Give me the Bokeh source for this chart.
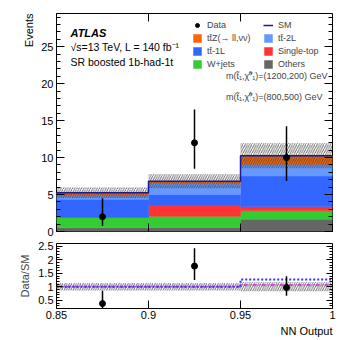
import numpy as np
from bokeh.plotting import figure
from bokeh.layouts import column
from bokeh.models import (ColumnDataSource, Range1d, FixedTicker, Legend, LegendItem,
                          LinearAxis, CustomJSTickFormatter, Title)
from bokeh.core.properties import value
from bokeh.embed import file_html
from bokeh.resources import INLINE

# ---------------- data ----------------
bin_edges = [0.85, 0.90, 0.95, 1.00]
bin_centers = [0.875, 0.925, 0.975]
others = [0.50, 0.55, 1.65]
wjets = [1.40, 1.50, 1.15]
singletop = [0.05, 1.55, 0.55]
ttbar_1l = [2.40, 1.40, 4.15]
ttbar_2l = [0.60, 1.50, 1.60]
ttz = [0.30, 0.30, 1.15]
sm_unc = [0.72, 0.95, 1.70]
data = [2, 12, 10]
data_err_up = [2.5, 4.5, 4.25]
data_err_down = [1.26, 3.5, 3.15]
ratio_sig_1200_200 = [1.0, 1.0, 1.27]
ratio_sig_800_500 = [1.0, 1.0, 1.07]
x_ticks = [0.85, 0.9, 0.95, 1.0]
main_y_ticks = [0, 5, 10, 15, 20, 25]
ratio_y_ticks = [0.5, 1.0, 1.5, 2.0, 2.5]

FONT = "Liberation Sans"
C_OTH, C_WJ, C_ST, C_1L, C_2L, C_TTZ = "#666666", "#33cc33", "#ff3333", "#3366ff", "#6699ff", "#ff6600"
C_SM = "#1a1a99"

edges = np.array(bin_edges)
left, right = edges[:-1], edges[1:]
comp = [others, wjets, singletop, ttbar_1l, ttbar_2l, ttz]
sm_total = np.sum(np.array(comp), axis=0)
unc = np.array(sm_unc)
d = np.array(data, dtype=float)

# ---------------- helpers ----------------
def style_axis(ax, ticks, minor, labels=True, size="11px"):
    ax.ticker = FixedTicker(ticks=list(ticks), minor_ticks=list(minor))
    ax.major_tick_in = 8
    ax.major_tick_out = 0
    ax.minor_tick_in = 4
    ax.minor_tick_out = 0
    ax.major_tick_line_color = "black"
    ax.minor_tick_line_color = "black"
    ax.axis_line_color = None
    ax.major_label_text_font = FONT
    ax.major_label_text_color = "black"
    ax.axis_label_text_font = FONT
    ax.axis_label_text_font_style = "normal"
    ax.axis_label_text_font_size = "11px"
    if labels:
        ax.major_label_text_font_size = size
        ax.major_label_standoff = 3
        ax.formatter = CustomJSTickFormatter(code="return String(+tick.toFixed(4));")
    else:
        ax.major_label_standoff = 0
        ax.formatter = CustomJSTickFormatter(code="return '';")


def side_title(text, align, standoff):
    return Title(text=text, align=align, text_font=FONT, text_font_size="11px",
                 text_font_style="normal", text_color="black", standoff=standoff, offset=0)

# ---------------- main panel ----------------
p = figure(width=349, height=238, x_range=Range1d(0.85, 1.0), y_range=Range1d(0, 29.5),
           output_backend="svg", toolbar_location=None,
           min_border_left=56, min_border_right=17, min_border_top=13, min_border_bottom=7)
p.xgrid.visible = False
p.ygrid.visible = False
p.outline_line_color = "black"
p.outline_line_width = 1
p.background_fill_color = "white"

main_minor = np.arange(0, 30, 1)
style_axis(p.yaxis[0], main_y_ticks, main_minor)
style_axis(p.xaxis[0], x_ticks, [], labels=False)
ax_r = LinearAxis()
style_axis(ax_r, main_y_ticks, main_minor, labels=False)
p.add_layout(ax_r, "right")
ax_t = LinearAxis()
style_axis(ax_t, x_ticks, [], labels=False)
p.add_layout(ax_t, "above")
p.add_layout(side_title("Events", "right", 8), "left")

src = ColumnDataSource(dict(x=bin_centers, others=others, wjets=wjets, singletop=singletop,
                            ttbar_1l=ttbar_1l, ttbar_2l=ttbar_2l, ttz=ttz))
names = ["others", "wjets", "singletop", "ttbar_1l", "ttbar_2l", "ttz"]
stack = p.vbar_stack(names, x="x", width=0.05, source=src,
                     color=[C_OTH, C_WJ, C_ST, C_1L, C_2L, C_TTZ], line_width=0.5)

p.quad(left=left, right=right, bottom=sm_total - unc, top=sm_total + unc,
       fill_color=None, line_color=None, hatch_pattern="/", hatch_color="#404040",
       hatch_scale=4.5, hatch_weight=0.8)

r_sm = p.step(x=bin_edges, y=list(sm_total) + [sm_total[-1]], mode="after",
              line_color=C_SM, line_width=1.5)

p.segment(x0=bin_centers, y0=d - np.array(data_err_down), x1=bin_centers,
          y1=d + np.array(data_err_up), line_color="black", line_width=1.5)
r_data = p.scatter(x=bin_centers, y=data, size=6, color="black")

# legend-only renderers for signals
r_s1 = p.line(x=[], y=[], line_color="#3333ff", line_width=2, line_dash="2 2")
r_s2 = p.line(x=[], y=[], line_color="#dd22dd", line_width=1.5, line_dash="4 2 1 2")

legA = Legend(items=[
    LegendItem(label="Data", renderers=[r_data]),
    LegendItem(label="tt\u0304Z(\u2192 ll,\u03bd\u03bd)", renderers=[stack[5]]),
    LegendItem(label="tt\u0304-1L", renderers=[stack[3]]),
    LegendItem(label="W+jets", renderers=[stack[1]]),
    LegendItem(label="SM", renderers=[r_sm]),
    LegendItem(label="tt\u0304-2L", renderers=[stack[4]]),
    LegendItem(label="Single-top", renderers=[stack[2]]),
    LegendItem(label="Others", renderers=[stack[0]]),
], ncols=2, location=(136, 162))
legB = Legend(items=[
    LegendItem(label="m(t\u0303\u2081,\u03c7\u0303\u2070\u2081)=(1200,200) GeV", renderers=[r_s1]),
    LegendItem(label="m(t\u0303\u2081,\u03c7\u0303\u2070\u2081)=(800,500) GeV", renderers=[r_s2]),
], location=(141, 128))
for lg, gw, sp in ((legA, 10, 3), (legB, 24, 8)):
    lg.glyph_width = gw
    lg.glyph_height = 10
    lg.label_height = 10
    lg.label_standoff = 5
    lg.spacing = sp
    lg.padding = 0
    lg.margin = 0
    lg.border_line_color = None
    lg.background_fill_alpha = 0
    lg.label_text_font = FONT
    lg.label_text_font_size = "9px"
    lg.label_text_baseline = "middle"
legA.label_width = 53
p.add_layout(legA)
p.add_layout(legB)

# ATLAS labels as text glyphs
p.text(x=[0.85], y=[26.8], text=["ATLAS"], x_offset=14, text_font=value(FONT),
       text_font_style="bold italic", text_font_size="11px", text_baseline="middle",
       text_color="black")
p.text(x=[0.85, 0.85], y=[24.9, 22.9],
       text=["\u221as=13 TeV, L = 140 fb\u207b\u00b9", "SR boosted 1b-had-1t"],
       x_offset=14, text_font=value(FONT), text_font_size="10.5px",
       text_baseline="middle", text_color="black")

# ---------------- ratio panel ----------------
p2 = figure(width=349, height=102, x_range=p.x_range, y_range=Range1d(0.2, 2.6),
            output_backend="svg", toolbar_location=None,
            min_border_left=56, min_border_right=17, min_border_top=5, min_border_bottom=32)
p2.xgrid.visible = False
p2.ygrid.visible = False
p2.outline_line_color = "black"
p2.outline_line_width = 1

ratio_minor = np.arange(0.2, 2.61, 0.1)
style_axis(p2.yaxis[0], ratio_y_ticks, ratio_minor)
p2.yaxis[0].major_tick_in = 6
p2.yaxis[0].minor_tick_in = 3
p2.yaxis[0].axis_label = "Data/SM"
p2.yaxis[0].axis_label_standoff = 4
style_axis(p2.xaxis[0], x_ticks, [])
p2.xaxis[0].major_label_standoff = 2
ax_r2 = LinearAxis()
style_axis(ax_r2, ratio_y_ticks, ratio_minor, labels=False)
ax_r2.major_tick_in = 6
ax_r2.minor_tick_in = 3
p2.add_layout(ax_r2, "right")
p2.add_layout(side_title("NN Output", "right", 2), "below")

p2.quad(left=left, right=right, bottom=1 - unc / sm_total, top=1 + unc / sm_total,
        fill_color=None, line_color=None, hatch_pattern="/", hatch_color="#404040",
        hatch_scale=4.5, hatch_weight=0.8)
p2.step(x=bin_edges, y=list(ratio_sig_800_500) + [ratio_sig_800_500[-1]], mode="after",
        line_color="#dd22dd", line_width=1.5, line_dash="4 2 1 2")
p2.step(x=bin_edges, y=list(ratio_sig_1200_200) + [ratio_sig_1200_200[-1]], mode="after",
        line_color="#3333ff", line_width=2, line_dash="2 2")
rat = d / sm_total
p2.segment(x0=bin_centers, y0=(d - np.array(data_err_down)) / sm_total, x1=bin_centers,
           y1=(d + np.array(data_err_up)) / sm_total, line_color="black", line_width=1.5)
p2.scatter(x=bin_centers, y=rat, size=6, color="black")

layout = column(p, p2)
open("out.html", "w").write(file_html(layout, INLINE))
